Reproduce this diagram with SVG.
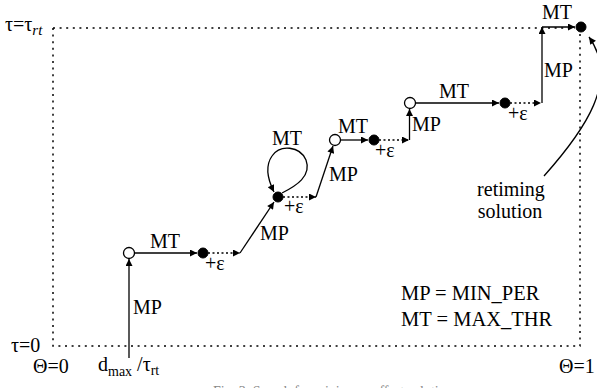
<svg xmlns="http://www.w3.org/2000/svg" width="597" height="388" viewBox="0 0 597 388">
<style>
.lb{font-size:20px}
.lg{font-size:20.5px}
.ax{font-size:20px}
.fr{fill:none;stroke:#000;stroke-width:1.5;stroke-dasharray:2,4.6}
.ln{fill:none;stroke:#000;stroke-width:1.3}
.dt{fill:none;stroke:#000;stroke-width:1.3;stroke-dasharray:2,2.5}
.op{fill:#fff;stroke:#000;stroke-width:1.3}
.fl{fill:#000;stroke:#000;stroke-width:1}
</style>
<defs>
<marker id="ah" viewBox="0 0 10 10" refX="10" refY="5" markerWidth="9" markerHeight="7" markerUnits="userSpaceOnUse" orient="auto"><path d="M0,0 L10,5 L0,10 z" fill="#000"/></marker>
</defs>
<rect width="597" height="388" fill="#fff"/>
<g id="frame">
<path class="fr" d="M53,28 L575,28 M53,28 L53,346 L580,346 L580,33"/>
</g>
<g id="connectors">
<path class="ln" d="M129,358 L129,259" marker-end="url(#ah)"/>
<path class="ln" d="M134.5,253 L197,253" marker-end="url(#ah)"/>
<path class="dt" d="M208,253 L240,253" marker-end="url(#ah)"/>
<path class="ln" d="M240,253 L274,202" marker-end="url(#ah)"/>
<path class="ln" d="M282,193 C296,186 312,176 306,160 C300,146 280,144 272,156 C265,166 268,180 274,192" marker-end="url(#ah)"/>
<path class="dt" d="M283,197 L316,197" marker-end="url(#ah)"/>
<path class="ln" d="M316,197 L333,146" marker-end="url(#ah)"/>
<path class="ln" d="M340.5,140 L368,140" marker-end="url(#ah)"/>
<path class="dt" d="M379,140 L409,140" marker-end="url(#ah)"/>
<path class="ln" d="M409.5,140 L409.5,109" marker-end="url(#ah)"/>
<path class="ln" d="M415.5,103 L499,103" marker-end="url(#ah)"/>
<path class="dt" d="M510,103 L541,103" marker-end="url(#ah)"/>
<path class="ln" d="M542,103 L542,27" marker-end="url(#ah)"/>
<path class="ln" d="M542,27 L575,27" marker-end="url(#ah)"/>
<path class="ln" d="M544,176 C585,130 620,80 589,37" marker-end="url(#ah)"/>
</g>
<g id="n1"><circle class="op" cx="129" cy="253" r="5.5"/></g>
<g id="n2"><circle class="fl" cx="203" cy="253" r="5"/></g>
<g id="n3"><circle class="fl" cx="278" cy="197" r="5"/></g>
<g id="n4"><circle class="op" cx="335" cy="140" r="5.5"/></g>
<g id="n5"><circle class="fl" cx="374" cy="140" r="5"/></g>
<g id="n6"><circle class="op" cx="410" cy="103" r="5.5"/></g>
<g id="n7"><circle class="fl" cx="505" cy="103" r="5"/></g>
<g id="n8"><circle class="fl" cx="581" cy="27" r="5"/></g>
<g id="texts" font-family="Liberation Serif, Times New Roman, serif" fill="#000">
<g id="axes">
<text class="ax" x="5" y="31">τ=τ<tspan font-style="italic" font-size="15" dy="4">rt</tspan></text>
<text class="ax" x="11" y="352">τ=0</text>
<text class="ax" x="33" y="373">Θ=0</text>
<text class="ax" x="98" y="371">d<tspan font-size="14" dy="5">max</tspan><tspan dy="-5"> /τ</tspan><tspan font-size="14" dy="4">rt</tspan></text>
<text class="ax" x="559" y="373">Θ=1</text>
</g>
<g id="labels">
<text class="lb" x="133" y="314">MP</text>
<text class="lb" x="150" y="248">MT</text>
<text class="lb" x="205" y="270">+ε</text>
<text class="lb" x="260" y="240">MP</text>
<text class="lb" x="272" y="145">MT</text>
<text class="lb" x="284" y="213">+ε</text>
<text class="lb" x="329" y="181">MP</text>
<text class="lb" x="338" y="133">MT</text>
<text class="lb" x="375" y="157">+ε</text>
<text class="lb" x="412" y="131">MP</text>
<text class="lb" x="439" y="98">MT</text>
<text class="lb" x="508" y="120">+ε</text>
<text class="lb" x="544" y="77">MP</text>
<text class="lb" x="542" y="19">MT</text>
<text class="lb" x="511" y="196" text-anchor="middle">retiming</text>
<text class="lb" x="510" y="218" text-anchor="middle">solution</text>
<text class="lg" x="401" y="300">MP = MIN_PER</text>
<text class="lg" x="401" y="326">MT = MAX_THR</text>
</g>
<g id="caption"><text x="213" y="396" font-size="14" fill="#888">Fig. 3.    Search for minimum-effort solution</text></g>
</g>
</svg>
